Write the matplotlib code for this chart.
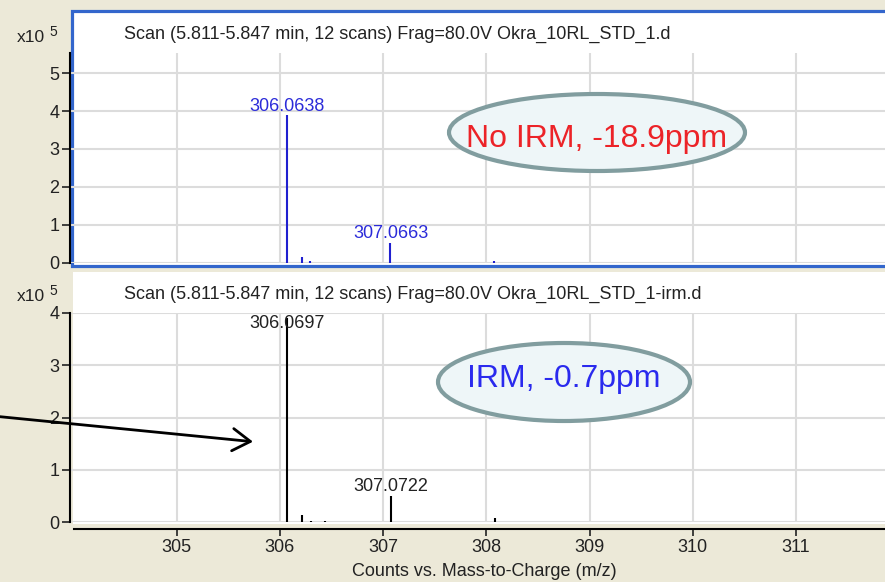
import matplotlib
matplotlib.use("Agg")
import matplotlib.pyplot as plt
from matplotlib.patches import Rectangle, Ellipse, FancyArrowPatch

# ---------------- data (intensities in units of 1e5 counts) ----------------
top_mz = [306.0638, 306.217, 306.29, 307.0663, 308.075]
top_int = [3.90, 0.14, 0.05, 0.53, 0.05]
top_labels = {0: "306.0638", 3: "307.0663"}
top_title = "Scan (5.811-5.847 min, 12 scans) Frag=80.0V Okra_10RL_STD_1.d"

bot_mz = [306.0697, 306.217, 306.30, 306.44, 307.0722, 308.08]
bot_int = [3.90, 0.13, 0.03, 0.03, 0.51, 0.08]
bot_labels = {0: "306.0697", 4: "307.0722"}
bot_title = "Scan (5.811-5.847 min, 12 scans) Frag=80.0V Okra_10RL_STD_1-irm.d"

x_ticks = [305, 306, 307, 308, 309, 310, 311]
top_yticks = [0, 1, 2, 3, 4, 5]
bot_yticks = [0, 1, 2, 3, 4]
x_label = "Counts vs. Mass-to-Charge (m/z)"
top_note = "No IRM, -18.9ppm"
bot_note = "IRM, -0.7ppm"

# ---------------- layout helpers ----------------
W, H = 885, 582
def fx(px):
    return px / W
def fy(py):
    return 1 - py / H

BEIGE = "#ECE9D8"
GRID = "#DCDCDC"
FONT = ["Liberation Sans", "DejaVu Sans"]
FS = 13
TXT = "#222222"

fig = plt.figure(figsize=(W / 100, H / 100), dpi=100, facecolor=BEIGE)

# panel backgrounds
fig.add_artist(Rectangle((fx(72), fy(266)), fx(900) - fx(72), (266 - 11) / H,
                         transform=fig.transFigure, facecolor="white",
                         edgecolor="#3366CC", linewidth=2.3, zorder=0))
fig.add_artist(Rectangle((fx(73), fy(524)), fx(900) - fx(73), (524 - 272) / H,
                         transform=fig.transFigure, facecolor="white",
                         edgecolor="none", zorder=0))

xlim = (303.966, 311.862)

def setup(ax, ylim, yticks):
    ax.set_facecolor("none")
    ax.set_xlim(*xlim)
    ax.set_ylim(*ylim)
    ax.set_xticks(x_ticks)
    ax.set_yticks(yticks)
    ax.grid(True, color=GRID, linewidth=1.5)
    ax.set_axisbelow(True)
    for s in ["top", "right", "bottom"]:
        ax.spines[s].set_visible(False)
    ax.spines["left"].set_color("black")
    ax.spines["left"].set_linewidth(1.5)
    ax.tick_params(axis="y", direction="out", length=6, width=1.2, pad=1.5,
                   labelsize=FS, colors=TXT)
    for lab in ax.get_yticklabels():
        lab.set_family(FONT)

# ---------------- top panel ----------------
ax1 = fig.add_axes([fx(70), fy(262.7), fx(885) - fx(70), (262.7 - 53) / H])
setup(ax1, (0, 5.53), top_yticks)
ax1.tick_params(axis="x", length=0, labelbottom=False)
ax1.vlines(top_mz, 0, top_int, color="#2020D0", linewidth=1.5)
for i, txt in top_labels.items():
    ax1.annotate(txt, (top_mz[i], top_int[i]), xytext=(0.5, 3), textcoords="offset points",
                 ha="center", va="baseline", color="#2B2BD9", fontsize=FS, family=FONT)

# ---------------- bottom panel ----------------
ax2 = fig.add_axes([fx(70), fy(522.3), fx(885) - fx(70), (522.3 - 312.7) / H])
setup(ax2, (0, 4), bot_yticks)
ax2.spines["bottom"].set_visible(True)
ax2.spines["bottom"].set_color("black")
ax2.spines["bottom"].set_linewidth(1.5)
ax2.spines["bottom"].set_position(("outward", 5))
ax2.spines["bottom"].set_bounds(304.0, xlim[1])
ax2.tick_params(axis="x", direction="out", length=5, width=1.2, pad=2,
                labelsize=FS, colors=TXT)
for lab in ax2.get_xticklabels():
    lab.set_family(FONT)
ax2.vlines(bot_mz, 0, bot_int, color="black", linewidth=1.5)
offsets = {0: -7.4, 4: 3}
for i, txt in bot_labels.items():
    ax2.annotate(txt, (bot_mz[i], bot_int[i]), xytext=(0, offsets[i]), textcoords="offset points",
                 ha="center", va="baseline", color=TXT, fontsize=FS, family=FONT)

fig.text(fx(484.5), fy(576), x_label, ha="center", va="baseline",
         fontsize=FS, family=FONT, color=TXT)

# titles and scale factors
fig.text(fx(124), fy(38.5), top_title, ha="left", va="baseline", fontsize=FS,
         family=FONT, color=TXT)
fig.text(fx(124), fy(299.3), bot_title, ha="left", va="baseline", fontsize=FS,
         family=FONT, color=TXT)
for base in (41.7, 300.7):
    fig.text(fx(17), fy(base), "x10", ha="left", va="baseline", fontsize=12.5,
             family=FONT, color=TXT)
    fig.text(fx(49), fy(base - 6), "5", ha="left", va="baseline", fontsize=10,
             family=FONT, color=TXT)

# ---------------- callouts ----------------
fig.add_artist(Ellipse((fx(597), fy(132.5)), 296 / W, 77 / H, transform=fig.transFigure,
                       facecolor="#EEF6F8", edgecolor="#819D9F", linewidth=3, zorder=5))
fig.text(fx(597), fy(146.5), top_note, ha="center", va="baseline", fontsize=23,
         family=FONT, color="#EC2328", zorder=6)
fig.add_artist(Ellipse((fx(564), fy(382)), 252 / W, 78 / H, transform=fig.transFigure,
                       facecolor="#EEF6F8", edgecolor="#819D9F", linewidth=3, zorder=5))
fig.text(fx(563.5), fy(386.7), bot_note, ha="center", va="baseline", fontsize=23,
         family=FONT, color="#2A2AEE", zorder=6)

fig.add_artist(FancyArrowPatch((fx(0), fy(416.7)), (fx(253), fy(441.7)),
                               transform=fig.transFigure,
                               arrowstyle="->,head_length=0.4,head_width=0.25",
                               mutation_scale=32, linewidth=2, color="black",
                               shrinkA=0, shrinkB=0, zorder=7))

fig.savefig("out.png", dpi=100, facecolor=BEIGE)
